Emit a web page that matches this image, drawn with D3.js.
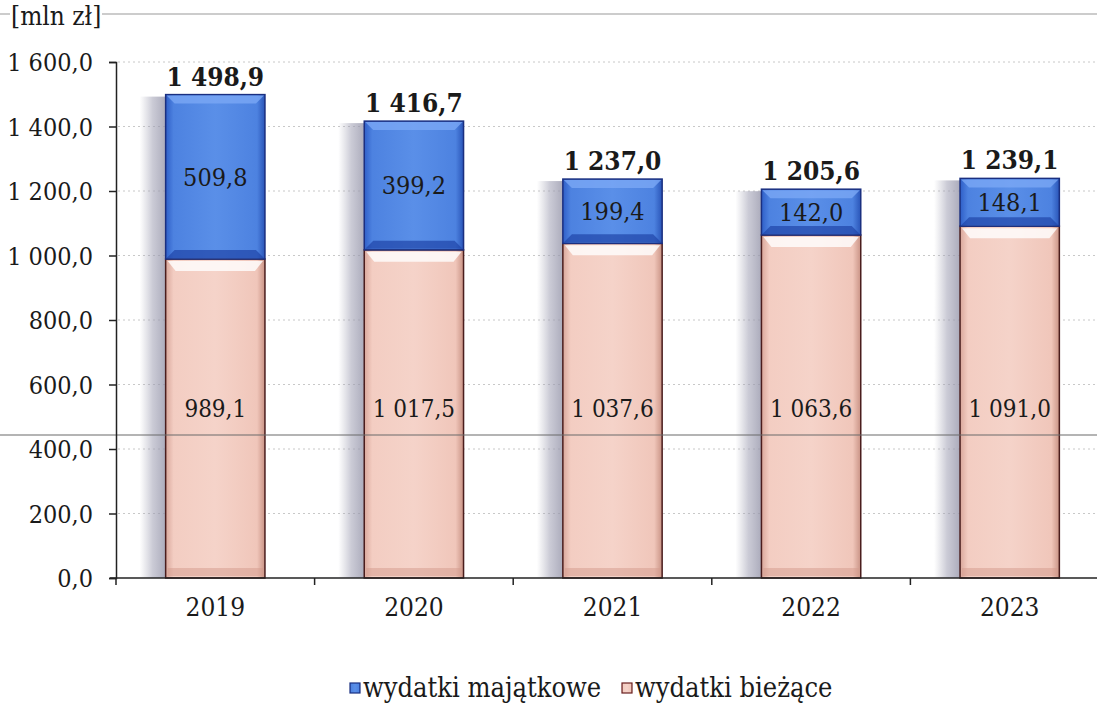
<!DOCTYPE html>
<html><head><meta charset="utf-8">
<script src="https://cdn.jsdelivr.net/npm/d3@7"></script>
<style>body{margin:0;background:#fff}svg{display:block}text{font-family:"DejaVu Serif Condensed","DejaVu Serif",serif;fill:#1a1a1a}</style>
</head><body>
<script>
const years = ["2019","2020","2021","2022","2023"];
const biezace = [989.1, 1017.5, 1037.6, 1063.6, 1091.0];
const majatkowe = [509.8, 399.2, 199.4, 142.0, 148.1];
const totals = [1498.9, 1416.7, 1237.0, 1205.6, 1239.1];
const yTicks = [0,200,400,600,800,1000,1200,1400,1600];
const seriesNames = ["wydatki majątkowe","wydatki bieżące"];

const W=1097,H=706, FS=24, FF='"DejaVu Serif Condensed","DejaVu Serif",serif';
const fmt = v => {
  const s = v.toFixed(1).replace(".", ",");
  const [i,d] = s.split(",");
  return i.replace(/\B(?=(\d{3})+(?!\d))/g, " ") + "," + d;
};
const svg = d3.select("body").append("svg").attr("width",W).attr("height",H);
const defs = svg.append("defs");
function grad(id, stops){
  const g = defs.append("linearGradient").attr("id",id);
  stops.forEach(s=>g.append("stop").attr("offset",s[0]).attr("stop-color",s[1]));
}
grad("blueH",[[0,"#2f5fc8"],[0.08,"#4d82e0"],[0.5,"#5a8fe8"],[0.92,"#4d82e0"],[1,"#2a55b8"]]);
grad("pinkH",[[0,"#d9a79b"],[0.08,"#f3cdc2"],[0.5,"#f5d3c9"],[0.92,"#f0c6ba"],[1,"#c99385"]]);
grad("shadow",[[0,"rgba(170,170,185,0)"],[0.5,"rgba(160,160,180,0.55)"],[1,"rgba(150,150,170,0.8)"]]);

const x = d3.scaleBand().domain(years).range([116,1109]).paddingInner(0.5).paddingOuter(0.25);
const y = d3.scaleLinear().domain([0,1600]).range([578,62]);

// top rule
svg.append("line").attr("x1",0).attr("x2",W).attr("y1",14).attr("y2",14).attr("stroke","#999").attr("stroke-width",1);
svg.append("rect").attr("x",10).attr("y",4).attr("width",92).attr("height",26).attr("fill","#fff");

// gridlines
svg.append("g").selectAll("line").data(yTicks.filter(d=>d>0)).join("line")
  .attr("x1",118).attr("x2",W).attr("y1",d=>y(d)).attr("y2",d=>y(d))
  .attr("stroke","#c8c8c8").attr("stroke-width",1).attr("stroke-dasharray","2,3");

svg.append("text").attr("x",11).attr("y",25).attr("font-size",26).text("[mln zł]");

// bars
const bw = x.bandwidth();
const g = svg.append("g");
years.forEach((yr,i)=>{
  const x0 = x(yr);
  g.append("rect").attr("x",x0-26).attr("y",y(totals[i])+2).attr("width",26)
    .attr("height",y(0)-y(totals[i])-2).attr("fill","url(#shadow)");
  const pTop=y(biezace[i]), pBot=y(0);
  g.append("rect").attr("x",x0).attr("y",pTop).attr("width",bw).attr("height",pBot-pTop)
    .attr("fill","url(#pinkH)").attr("stroke","#4a1d1d").attr("stroke-width",1.5);
  g.append("path").attr("d",`M${x0+2},${pTop+2}L${x0+bw-2},${pTop+2}L${x0+bw-10},${pTop+12}L${x0+10},${pTop+12}Z`).attr("fill","#fff").attr("opacity",0.8);
  g.append("rect").attr("x",x0+2).attr("y",pBot-10).attr("width",bw-4).attr("height",8).attr("fill","#d49a8c").attr("opacity",0.5);
  const bTop=y(biezace[i]+majatkowe[i]), bBot=pTop;
  g.append("rect").attr("x",x0).attr("y",bTop).attr("width",bw).attr("height",bBot-bTop)
    .attr("fill","url(#blueH)").attr("stroke","#1a2f80").attr("stroke-width",1.5);
  g.append("path").attr("d",`M${x0+1},${bTop+1}L${x0+bw-1},${bTop+1}L${x0+bw-9},${bTop+9}L${x0+9},${bTop+9}Z`).attr("fill","#7aa8f5").attr("opacity",0.8);
  g.append("path").attr("d",`M${x0+1},${bBot-1}L${x0+bw-1},${bBot-1}L${x0+bw-9},${bBot-9}L${x0+9},${bBot-9}Z`).attr("fill","#1f45a8").attr("opacity",0.7);
  g.append("text").attr("x",x0+bw/2).attr("y",(bTop+bBot)/2+9).attr("text-anchor","middle").attr("font-size",25).text(fmt(majatkowe[i]));
  g.append("text").attr("x",x0+bw/2).attr("y",417).attr("text-anchor","middle").attr("font-size",FS).text(fmt(biezace[i]));
  g.append("text").attr("x",x0+bw/2).attr("y",bTop-9).attr("text-anchor","middle").attr("font-size",26).attr("font-weight","bold").text(fmt(totals[i]));
});

// scan line
svg.append("line").attr("x1",0).attr("x2",W).attr("y1",435).attr("y2",435).attr("stroke","#6a6a6a").attr("stroke-width",1.2);

// y axis
const ya = svg.append("g").attr("transform","translate(116,0)")
  .call(d3.axisLeft(y).tickValues(yTicks).tickSize(7).tickPadding(16).tickFormat(fmt));
ya.attr("font-family",FF);
ya.select(".domain").attr("stroke","#222").attr("stroke-width",1.5);
ya.selectAll(".tick line").attr("stroke","#222").attr("stroke-width",1.5);
ya.selectAll("text").attr("font-size",25).attr("fill","#1a1a1a").attr("dy","0.35em");

// x axis
const xa = svg.append("g").attr("transform","translate(0,578)")
  .call(d3.axisBottom(x).tickSize(0).tickPadding(20));
xa.attr("font-family",FF);
xa.select(".domain").remove();
xa.selectAll("text").attr("font-size",26).attr("fill","#1a1a1a").attr("dy","0.71em");
svg.append("line").attr("x1",110).attr("x2",W).attr("y1",578).attr("y2",578).attr("stroke","#222").attr("stroke-width",1.5);
const step = x.step();
svg.append("g").selectAll("line").data(d3.range(years.length)).join("line")
  .attr("x1",d=>116+step*d).attr("x2",d=>116+step*d).attr("y1",578).attr("y2",585)
  .attr("stroke","#222").attr("stroke-width",1.5);

// legend
const leg = svg.append("g");
const legItems = [{name:seriesNames[0],fill:"url(#blueH)",stroke:"#1a2f80"},{name:seriesNames[1],fill:"url(#pinkH)",stroke:"#6a2020"}];
const legX = [350, 622];
legItems.forEach((d,i)=>{
  leg.append("rect").attr("x",legX[i]).attr("y",683).attr("width",10).attr("height",10).attr("fill",d.fill).attr("stroke",d.stroke).attr("stroke-width",1.2);
  leg.append("text").attr("x",legX[i]+13).attr("y",697).attr("font-size",27).text(d.name);
});
</script>
</body></html>
